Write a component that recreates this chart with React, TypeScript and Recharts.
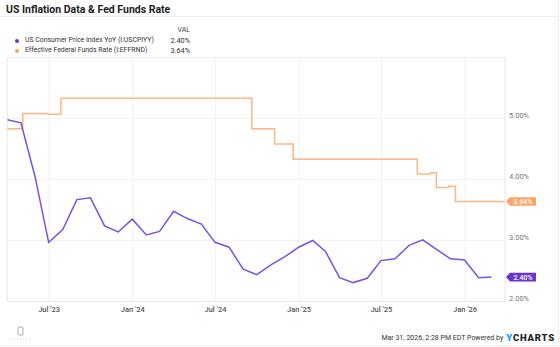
import { ComposedChart, Line, XAxis, YAxis, CartesianGrid, ReferenceLine, ReferenceDot } from "recharts";

// CPI YoY, monthly, plotted at month end (Mar 2023 .. Feb 2026)
const cpiMonths = [
  "2023-03", "2023-04", "2023-05", "2023-06", "2023-07", "2023-08", "2023-09", "2023-10", "2023-11", "2023-12",
  "2024-01", "2024-02", "2024-03", "2024-04", "2024-05", "2024-06", "2024-07", "2024-08", "2024-09", "2024-10",
  "2024-11", "2024-12", "2025-01", "2025-02", "2025-03", "2025-04", "2025-05", "2025-06", "2025-07", "2025-08",
  "2025-09", "2025-10", "2025-11", "2025-12", "2026-01", "2026-02",
];
const cpiValues = [
  4.98, 4.93, 4.05, 2.97, 3.18, 3.67, 3.70, 3.24, 3.14, 3.35,
  3.09, 3.15, 3.48, 3.36, 3.27, 2.97, 2.89, 2.53, 2.44, 2.60,
  2.73, 2.89, 3.00, 2.82, 2.39, 2.31, 2.38, 2.67, 2.70, 2.92,
  3.01, 2.85, 2.70, 2.68, 2.39, 2.40,
];

// Effective Fed Funds Rate, value from each date onwards
const effrDates = [
  "2023-03-31", "2023-05-04", "2023-06-29", "2023-07-27", "2024-09-19", "2024-11-08", "2024-12-19",
  "2025-09-18", "2025-10-17", "2025-10-30", "2025-11-26", "2025-12-11", "2026-03-30",
];
const effrValues = [4.83, 5.08, 5.07, 5.33, 4.83, 4.58, 4.33, 4.09, 4.11, 3.87, 3.89, 3.64, 3.64];

const tickDates = ["2023-07-01", "2024-01-01", "2024-07-01", "2025-01-01", "2025-07-01", "2026-01-01"];
const yTicks = [2, 3, 4, 5];

const PURPLE = "#7a52e3";
const PURPLE_TAG = "#6a35d8";
const ORANGE = "#ffb584";
const ORANGE_TAG = "#ffa366";

const toTs = (s: string) => {
  const [y, m, d] = s.split("-").map(Number);
  return d ? Date.UTC(y, m - 1, d) : Date.UTC(y, m, 0);
};

const cpiData = cpiMonths.map((m, i) => ({ t: toTs(m), cpi: cpiValues[i] }));
const effrData = effrDates.map((d, i) => ({ t: toTs(d), effr: effrValues[i] }));
const xTicks = tickDates.map(toTs);
const xStart = toTs("2023-03-31");
const xEnd = toTs("2026-03-30");

const MONTHS = ["Jan", "Feb", "Mar", "Apr", "May", "Jun", "Jul", "Aug", "Sep", "Oct", "Nov", "Dec"];
const fmtTick = (v: number) => {
  const d = new Date(v);
  return `${MONTHS[d.getUTCMonth()]} '${String(d.getUTCFullYear()).slice(2)}`;
};

const FONT = "Roboto, 'Noto Sans', sans-serif";

function Tag(props: any) {
  const { cx, cy, fill, text } = props;
  const x0 = cx + 1;
  const h = 8.6;
  return (
    <g>
      <path
        d={`M${x0},${cy} L${x0 + 4},${cy - h / 2} L${x0 + 30},${cy - h / 2} L${x0 + 30},${cy + h / 2} L${x0 + 4},${cy + h / 2} Z`}
        fill={fill}
      />
      <text x={x0 + 17} y={cy} dy="0.35em" textAnchor="middle" fill="#fff" fontSize={7} fontWeight={500} fontFamily={FONT}>
        {text}
      </text>
    </g>
  );
}

const legendRows = [
  { name: "US Consumer Price Index YoY (I:USCPIYY)", value: "2.40%", color: PURPLE_TAG },
  { name: "Effective Federal Funds Rate (I:EFFRND)", value: "3.64%", color: ORANGE_TAG },
];

export default function App() {
  return (
    <div style={{ position: "relative", width: 560, height: 347, background: "#fff", fontFamily: FONT, overflow: "hidden" }}>
      <style>{"body{margin:0}"}</style>
      <div style={{ position: "absolute", left: 6, top: 3, fontSize: 10.5, fontWeight: 700, color: "#222" }}>
        US Inflation Data &amp; Fed Funds Rate
      </div>
      <div style={{ position: "absolute", left: 0, top: 16, width: 558, height: 1, background: "#f0f0f0" }} />
      <div style={{ position: "absolute", left: 150, width: 40, top: 26, fontSize: 7, color: "#444", textAlign: "right" }}>VAL</div>
      {legendRows.map((r, i) => (
        <div key={r.name} style={{ position: "absolute", left: 0, top: 36 + i * 10, height: 10, width: 200, fontSize: 6.9, color: "#333" }}>
          <span style={{ position: "absolute", left: 14.7, top: 3, width: 4, height: 4, borderRadius: 2, background: r.color }} />
          <span style={{ position: "absolute", left: 25, top: 0, whiteSpace: "nowrap" }}>{r.name}</span>
          <span style={{ position: "absolute", right: 10, top: 0, fontSize: 7.3 }}>{r.value}</span>
        </div>
      ))}

      <div style={{ position: "absolute", left: 0, top: 0 }}>
        <ComposedChart width={560} height={347} margin={{ top: 57.5, right: 0, bottom: 25.5, left: 7.3 }}>
          <CartesianGrid stroke="#f2f2f2" />
          <XAxis
            type="number"
            dataKey="t"
            domain={[xStart, xEnd]}
            ticks={xTicks}
            tickFormatter={fmtTick}
            allowDataOverflow
            height={20}
            tickSize={0}
            tickMargin={5}
            axisLine={{ stroke: "#e6e6e6" }}
            tickLine={false}
            tick={{ fontSize: 7.5, fill: "#555", fontFamily: FONT, fontWeight: 500 }}
          />
          <YAxis
            orientation="right"
            domain={[2, 6]}
            ticks={yTicks}
            allowDataOverflow
            width={55}
            tickSize={0}
            tickMargin={4}
            axisLine={{ stroke: "#ececec" }}
            tickLine={false}
            tickFormatter={(v: number) => `${v.toFixed(2)}%`}
            tick={{ fontSize: 7.5, fill: "#777", fontFamily: FONT, dy: -3 }}
          />
          <ReferenceLine y={6} stroke="#ececec" />
          <ReferenceLine x={xStart} stroke="#ececec" />
          <Line
            data={effrData}
            dataKey="effr"
            type="stepAfter"
            stroke={ORANGE}
            strokeWidth={1.5}
            dot={false}
            isAnimationActive={false}
          />
          <Line
            data={cpiData}
            dataKey="cpi"
            type="linear"
            stroke={PURPLE}
            strokeWidth={1.5}
            dot={false}
            isAnimationActive={false}
          />
          <ReferenceDot x={xEnd} y={effrValues[effrValues.length - 1]} shape={(p: any) => <Tag {...p} fill={ORANGE_TAG} text="3.64%" />} />
          <ReferenceDot x={xEnd} y={cpiValues[cpiValues.length - 1]} shape={(p: any) => <Tag {...p} fill={PURPLE_TAG} text="2.40%" />} />
        </ComposedChart>
      </div>

      <svg style={{ position: "absolute", left: 10, top: 326 }} width={24} height={16}>
        <rect x={8} y={1} width={5} height={8} rx={1} fill="none" stroke="#aaa" strokeWidth={1} />
        <line x1={1} y1={13} x2={22} y2={13} stroke="#ccc" strokeDasharray="1 2" />
      </svg>
      <div style={{ position: "absolute", right: 5, top: 332, fontSize: 7, color: "#333", whiteSpace: "nowrap", display: "flex", alignItems: "center", gap: 3 }}>
        <span>Mar 31, 2026, 2:28 PM EDT Powered by</span>
        <span style={{ fontSize: 9.5, fontWeight: 900, letterSpacing: 0.8, color: "#222" }}>
          <span style={{ color: "#1e9bff" }}>Y</span>CHARTS
        </span>
      </div>
      <div style={{ position: "absolute", left: 0, top: 345, width: 558, height: 1, background: "#eee" }} />
      <div style={{ position: "absolute", left: 558, top: 0, width: 1, height: 346, background: "#eee" }} />
    </div>
  );
}
